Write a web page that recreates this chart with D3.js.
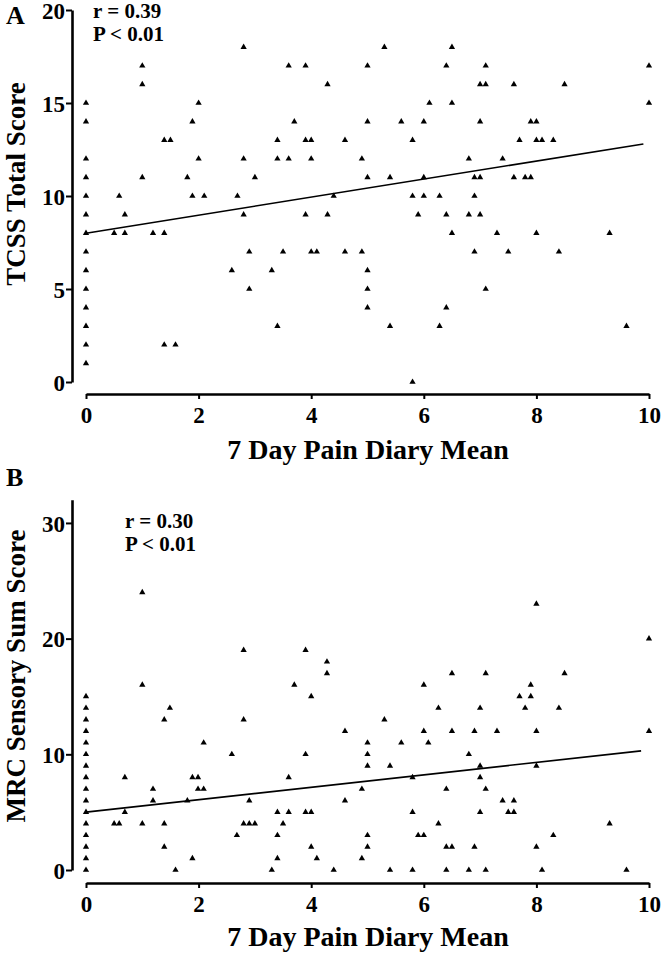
<!DOCTYPE html>
<html>
<head>
<meta charset="utf-8">
<script src="https://cdn.jsdelivr.net/npm/d3@7"></script>
<style>
  html, body { margin: 0; padding: 0; background: #fff; }
  svg text { font-family: "Liberation Serif", "Times New Roman", serif; font-weight: bold; fill: #000; }
</style>
</head>
<body>
<svg id="chart" width="664" height="954"></svg>
<script>
// ---------- DATA ----------
const xTicks = [0, 2, 4, 6, 8, 10];
const yTicksA = [0, 5, 10, 15, 20];
const yTicksB = [0, 10, 20, 30];
const xLabel = "7 Day Pain Diary Mean";
const yLabelA = "TCSS Total Score";
const yLabelB = "MRC Sensory Sum Score";
const statsA = ["r = 0.39", "P < 0.01"];
const statsB = ["r = 0.30", "P < 0.01"];

// [pain diary mean, TCSS total score]
const tcssPoints = [
  [0,15],[0,14],[0,12],[0,11],[0,10],[0,9],[0,8],[0,7],[0,6],[0,5],[0,4],[0,3],[0,2],[0,1],
  [0.5,8],[0.59,10],[0.69,9],[0.69,8],
  [1.0,17],[1.0,16],[1.0,11],[1.19,8],
  [1.39,13],[1.39,8],[1.39,2],[1.5,13],[1.59,2],[1.8,11],[1.89,14],[1.89,10],
  [2.0,15],[2.0,12],[2.1,10],[2.59,6],[2.69,10],[2.8,18],[2.8,12],[2.8,9],[2.9,7],[2.9,5],
  [3.0,11],[3.3,6],[3.4,13],[3.4,12],[3.4,3],[3.5,7],[3.6,17],[3.6,12],[3.7,14],[3.9,17],[3.9,13],[3.9,9],
  [4.0,13],[4.0,12],[4.0,7],[4.1,7],[4.29,16],[4.29,9],[4.4,10],[4.6,13],[4.6,7],[4.9,12],[4.9,7],
  [5.0,17],[5.0,14],[5.0,11],[5.0,6],[5.0,5],[5.0,4],[5.3,18],[5.4,11],[5.4,3],[5.6,14],[5.8,13],[5.8,10],[5.8,0],[5.9,9],
  [6.0,14],[6.0,11],[6.0,10],[6.1,15],[6.28,10],[6.28,3],[6.4,17],[6.4,9],[6.4,4],[6.5,18],[6.5,15],[6.5,8],
  [6.8,12],[6.8,9],[6.9,11],[6.9,10],[6.9,7],[7.0,16],[7.0,14],[7.0,11],[7.0,9],[7.1,17],[7.1,16],[7.1,5],
  [7.3,8],[7.4,12],[7.5,7],[7.6,16],[7.6,11],[7.7,13],[7.8,11],[7.9,14],[7.9,11],[8.0,14],[8.0,13],[8.0,8],
  [8.1,13],[8.3,13],[8.4,7],[8.5,16],[9.3,8],[9.6,3],[10,17],[10,15]
];

// [pain diary mean, MRC sensory sum score]
const mrcPoints = [
  [0,15],[0,14],[0,13],[0,12],[0,11],[0,10],[0,9],[0,8],[0,7],[0,6],[0,5],[0,4],[0,3],[0,2],[0,1],[0,0],
  [0.5,4],[0.59,4],[0.69,8],[0.69,5],
  [1.0,24],[1.0,16],[1.0,4],[1.19,7],[1.19,6],
  [1.39,13],[1.39,4],[1.39,2],[1.49,14],[1.59,0],[1.8,6],[1.89,8],[1.89,1],[1.99,8],[1.99,7],
  [2.09,11],[2.09,7],[2.59,10],[2.68,3],[2.8,19],[2.8,13],[2.8,4],[2.9,6],[2.9,4],
  [3.0,4],[3.3,0],[3.4,5],[3.4,3],[3.4,1],[3.5,4],[3.6,8],[3.6,5],[3.7,16],[3.9,19],[3.9,10],[3.9,5],
  [4.0,15],[4.0,5],[4.0,2],[4.1,1],[4.28,18],[4.28,17],[4.4,0],[4.6,12],[4.6,6],[4.9,7],[4.9,1],
  [5.0,11],[5.0,10],[5.0,9],[5.0,3],[5.0,2],[5.3,13],[5.4,9],[5.4,0],[5.6,11],[5.8,8],[5.8,5],[5.8,0],[5.9,3],
  [6.0,16],[6.0,12],[6.0,3],[6.08,11],[6.26,14],[6.26,4],[6.4,7],[6.4,2],[6.4,0],[6.5,17],[6.5,12],[6.5,2],
  [6.8,10],[6.8,0],[6.9,12],[6.9,2],[7.0,14],[7.0,9],[7.0,8],[7.0,5],[7.1,17],[7.1,7],[7.1,0],
  [7.3,12],[7.4,6],[7.5,5],[7.6,6],[7.6,5],[7.7,15],[7.8,14],[7.9,16],[7.9,15],
  [8.0,23],[8.0,12],[8.0,9],[8.0,2],[8.1,0],[8.3,3],[8.4,14],[8.5,17],[9.3,4],[9.6,0],[10,20],[10,12]
];

// regression line end points [x, y]
const fitA = [[0, 8.0], [9.9, 12.8]];
const fitB = [[0, 5.0], [9.86, 10.3]];

// ---------- DRAW ----------
const svg = d3.select("#chart");

function panel(cfg) {
  const g = svg.append("g");
  const x = d3.scaleLinear().domain([0, 10]).range([86, 649]);
  const y = d3.scaleLinear().domain(cfg.yDomain).range(cfg.yRange);

  // y axis
  const ya = g.append("g").attr("transform", "translate(72,0)")
    .call(d3.axisLeft(y).tickValues(cfg.yTicks).tickSize(6).tickSizeOuter(0).tickPadding(1));
  ya.select(".domain").attr("stroke", "#000").attr("stroke-width", 2.6);
  ya.selectAll(".tick line").attr("stroke", "#000").attr("stroke-width", 2);
  ya.selectAll(".tick text").style("font-size", "23px").attr("dy", "0.36em");

  // x axis
  const xa = g.append("g").attr("transform", `translate(0,${cfg.xAxisY})`)
    .call(d3.axisBottom(x).tickValues(xTicks).tickSize(5).tickSizeOuter(0));
  xa.select(".domain").attr("stroke", "#000").attr("stroke-width", 2.6);
  xa.selectAll(".tick line").attr("stroke", "#000").attr("stroke-width", 2);
  xa.selectAll(".tick text").style("font-size", "23px").attr("dy", null).attr("y", 29);

  // points
  g.append("g").selectAll("path").data(cfg.points).join("path")
    .attr("d", d3.symbol(d3.symbolTriangle).size(17))
    .attr("transform", d => `translate(${x(d[0])},${y(d[1])})`)
    .attr("fill", "#000");

  // regression line
  g.append("path").datum(cfg.fit)
    .attr("d", d3.line().x(d => x(d[0])).y(d => y(d[1])))
    .attr("stroke", "#000").attr("stroke-width", 1.6).attr("fill", "none");

  // labels
  g.append("text").attr("x", 6).attr("y", cfg.letterY).style("font-size", "26px").text(cfg.letter);
  g.append("text").attr("x", cfg.statX).attr("y", cfg.statY).style("font-size", "21px").text(cfg.stats[0]);
  g.append("text").attr("x", cfg.statX).attr("y", cfg.statY + 23).style("font-size", "21px").text(cfg.stats[1]);
  g.append("text").attr("text-anchor", "middle").style("font-size", "28px")
    .attr("x", 368).attr("y", cfg.xLabelY).text(xLabel);
  g.append("text").attr("text-anchor", "middle").style("font-size", "27px")
    .attr("transform", `translate(25,${cfg.yLabelC}) rotate(-90)`).text(cfg.yLabel);
}

panel({
  yDomain: [0, 20], yRange: [382, 10], yTicks: yTicksA, xAxisY: 394,
  points: tcssPoints, fit: fitA, letter: "A", letterY: 24,
  stats: statsA, statX: 93, statY: 18, xLabelY: 459, yLabel: yLabelA, yLabelC: 184
});
panel({
  yDomain: [0, 32], yRange: [870, 499.8], yTicks: yTicksB, xAxisY: 883,
  points: mrcPoints, fit: fitB, letter: "B", letterY: 486,
  stats: statsB, statX: 125, statY: 528, xLabelY: 946, yLabel: yLabelB, yLabelC: 676
});
</script>
</body>
</html>
